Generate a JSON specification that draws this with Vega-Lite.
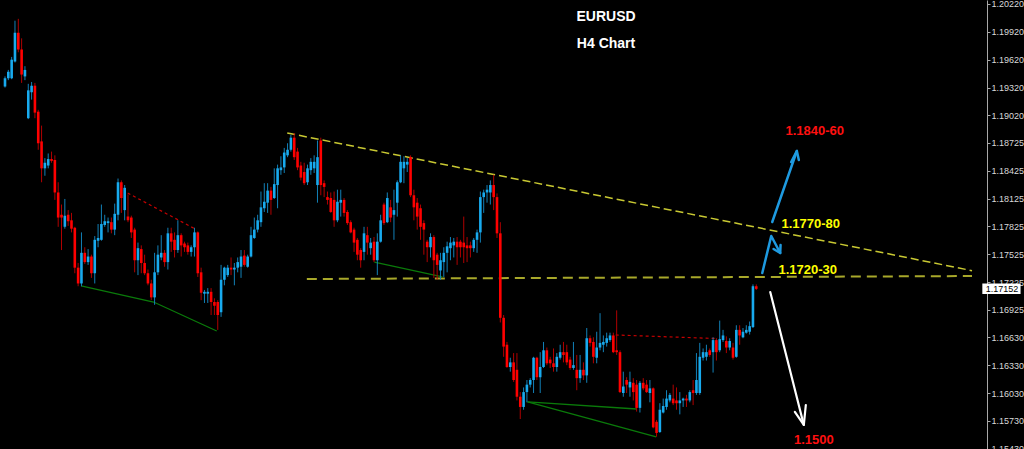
{
 "$schema": "https://vega.github.io/schema/vega-lite/v6.json",
 "width": 987,
 "height": 449,
 "autosize": {"type": "none"},
 "padding": {"left": 0, "top": 0, "right": 37, "bottom": 0},
 "background": "#000000",
 "config": {"view": {"stroke": null}, "text": {"font": "Liberation Sans"}},
 "datasets": {
  "candles": [
{"t":0,"o":1.1933,"h":1.1944,"l":1.1932,"c":1.1942},
{"t":1,"o":1.1942,"h":1.1951,"l":1.1940,"c":1.1949},
{"t":2,"o":1.1942,"h":1.1965,"l":1.1941,"c":1.1962},
{"t":3,"o":1.1960,"h":1.2004,"l":1.1959,"c":1.1991},
{"t":4,"o":1.1991,"h":1.2006,"l":1.1970,"c":1.1973},
{"t":5,"o":1.1973,"h":1.1985,"l":1.1937,"c":1.1946},
{"t":6,"o":1.1944,"h":1.1955,"l":1.1940,"c":1.1951},
{"t":7,"o":1.1899,"h":1.1936,"l":1.1898,"c":1.1929},
{"t":8,"o":1.1927,"h":1.1938,"l":1.1919,"c":1.1934},
{"t":9,"o":1.1934,"h":1.1937,"l":1.1899,"c":1.1905},
{"t":10,"o":1.1906,"h":1.1908,"l":1.1865,"c":1.1872},
{"t":11,"o":1.1874,"h":1.1891,"l":1.1830,"c":1.1845},
{"t":12,"o":1.1845,"h":1.1856,"l":1.1837,"c":1.1851},
{"t":13,"o":1.1848,"h":1.1861,"l":1.1845,"c":1.1855},
{"t":14,"o":1.1855,"h":1.1863,"l":1.1851,"c":1.1853},
{"t":15,"o":1.1854,"h":1.1859,"l":1.1811,"c":1.1819},
{"t":16,"o":1.1819,"h":1.1830,"l":1.1782,"c":1.1792},
{"t":17,"o":1.1795,"h":1.1806,"l":1.1757,"c":1.1792},
{"t":18,"o":1.1782,"h":1.1812,"l":1.1780,"c":1.1794},
{"t":19,"o":1.1795,"h":1.1800,"l":1.1783,"c":1.1788},
{"t":20,"o":1.1789,"h":1.1797,"l":1.1776,"c":1.1780},
{"t":21,"o":1.1781,"h":1.1782,"l":1.1732,"c":1.1738},
{"t":22,"o":1.1738,"h":1.1743,"l":1.1718,"c":1.1721},
{"t":23,"o":1.1721,"h":1.1776,"l":1.1718,"c":1.1754},
{"t":24,"o":1.1754,"h":1.1760,"l":1.1742,"c":1.1744},
{"t":25,"o":1.1744,"h":1.1758,"l":1.1741,"c":1.1750},
{"t":26,"o":1.1750,"h":1.1752,"l":1.1727,"c":1.1732},
{"t":27,"o":1.1732,"h":1.1772,"l":1.1721,"c":1.1768},
{"t":28,"o":1.1767,"h":1.1785,"l":1.1760,"c":1.1770},
{"t":29,"o":1.1768,"h":1.1806,"l":1.1767,"c":1.1785},
{"t":30,"o":1.1784,"h":1.1795,"l":1.1782,"c":1.1788},
{"t":31,"o":1.1786,"h":1.1792,"l":1.1776,"c":1.1788},
{"t":32,"o":1.1787,"h":1.1792,"l":1.1775,"c":1.1779},
{"t":33,"o":1.1779,"h":1.1807,"l":1.1773,"c":1.1796},
{"t":34,"o":1.1795,"h":1.1834,"l":1.1789,"c":1.1830},
{"t":35,"o":1.1830,"h":1.1832,"l":1.1797,"c":1.1813},
{"t":36,"o":1.1800,"h":1.1827,"l":1.1789,"c":1.1824},
{"t":37,"o":1.1793,"h":1.1817,"l":1.1787,"c":1.1789},
{"t":38,"o":1.1792,"h":1.1794,"l":1.1770,"c":1.1776},
{"t":39,"o":1.1779,"h":1.1781,"l":1.1733,"c":1.1746},
{"t":40,"o":1.1746,"h":1.1765,"l":1.1730,"c":1.1759},
{"t":41,"o":1.1758,"h":1.1762,"l":1.1732,"c":1.1743},
{"t":42,"o":1.1743,"h":1.1752,"l":1.1730,"c":1.1732},
{"t":43,"o":1.1732,"h":1.1736,"l":1.1719,"c":1.1721},
{"t":44,"o":1.1721,"h":1.1725,"l":1.1703,"c":1.1706},
{"t":45,"o":1.1706,"h":1.1754,"l":1.1698,"c":1.1733},
{"t":46,"o":1.1733,"h":1.1762,"l":1.1730,"c":1.1752},
{"t":47,"o":1.1749,"h":1.1773,"l":1.1746,"c":1.1754},
{"t":48,"o":1.1754,"h":1.1757,"l":1.1739,"c":1.1744},
{"t":49,"o":1.1744,"h":1.1781,"l":1.1736,"c":1.1775},
{"t":50,"o":1.1775,"h":1.1781,"l":1.1755,"c":1.1766},
{"t":51,"o":1.1768,"h":1.1776,"l":1.1749,"c":1.1757},
{"t":52,"o":1.1757,"h":1.1789,"l":1.1754,"c":1.1773},
{"t":53,"o":1.1773,"h":1.1775,"l":1.1750,"c":1.1762},
{"t":54,"o":1.1764,"h":1.1766,"l":1.1755,"c":1.1760},
{"t":55,"o":1.1762,"h":1.1765,"l":1.1752,"c":1.1755},
{"t":56,"o":1.1755,"h":1.1762,"l":1.1750,"c":1.1760},
{"t":57,"o":1.1760,"h":1.1781,"l":1.1750,"c":1.1776},
{"t":58,"o":1.1776,"h":1.1777,"l":1.1728,"c":1.1732},
{"t":59,"o":1.1733,"h":1.1738,"l":1.1703,"c":1.1711},
{"t":60,"o":1.1710,"h":1.1714,"l":1.1700,"c":1.1712},
{"t":61,"o":1.1710,"h":1.1716,"l":1.1700,"c":1.1712},
{"t":62,"o":1.1712,"h":1.1716,"l":1.1687,"c":1.1701},
{"t":63,"o":1.1701,"h":1.1705,"l":1.1687,"c":1.1697},
{"t":64,"o":1.1701,"h":1.1703,"l":1.1671,"c":1.1687},
{"t":65,"o":1.1690,"h":1.1741,"l":1.1685,"c":1.1725},
{"t":66,"o":1.1725,"h":1.1739,"l":1.1719,"c":1.1738},
{"t":67,"o":1.1730,"h":1.1741,"l":1.1728,"c":1.1738},
{"t":68,"o":1.1738,"h":1.1749,"l":1.1730,"c":1.1736},
{"t":69,"o":1.1736,"h":1.1743,"l":1.1719,"c":1.1738},
{"t":70,"o":1.1738,"h":1.1749,"l":1.1733,"c":1.1744},
{"t":71,"o":1.1739,"h":1.1757,"l":1.1727,"c":1.1750},
{"t":72,"o":1.1751,"h":1.1757,"l":1.1739,"c":1.1741},
{"t":73,"o":1.1739,"h":1.1752,"l":1.1738,"c":1.1750},
{"t":74,"o":1.1750,"h":1.1782,"l":1.1749,"c":1.1773},
{"t":75,"o":1.1770,"h":1.1792,"l":1.1769,"c":1.1779},
{"t":76,"o":1.1779,"h":1.1795,"l":1.1776,"c":1.1789},
{"t":77,"o":1.1787,"h":1.1820,"l":1.1782,"c":1.1803},
{"t":78,"o":1.1802,"h":1.1829,"l":1.1798,"c":1.1809},
{"t":79,"o":1.1808,"h":1.1829,"l":1.1797,"c":1.1821},
{"t":80,"o":1.1821,"h":1.1825,"l":1.1795,"c":1.1811},
{"t":81,"o":1.1813,"h":1.1845,"l":1.1812,"c":1.1828},
{"t":82,"o":1.1827,"h":1.1849,"l":1.1802,"c":1.1845},
{"t":83,"o":1.1843,"h":1.1858,"l":1.1838,"c":1.1846},
{"t":84,"o":1.1846,"h":1.1867,"l":1.1840,"c":1.1862},
{"t":85,"o":1.1859,"h":1.1872,"l":1.1857,"c":1.1865},
{"t":86,"o":1.1865,"h":1.1881,"l":1.1863,"c":1.1878},
{"t":87,"o":1.1878,"h":1.1883,"l":1.1854,"c":1.1857},
{"t":88,"o":1.1863,"h":1.1867,"l":1.1843,"c":1.1846},
{"t":89,"o":1.1848,"h":1.1852,"l":1.1832,"c":1.1835},
{"t":90,"o":1.1841,"h":1.1851,"l":1.1827,"c":1.1829},
{"t":91,"o":1.1830,"h":1.1849,"l":1.1827,"c":1.1845},
{"t":92,"o":1.1843,"h":1.1856,"l":1.1838,"c":1.1852},
{"t":93,"o":1.1845,"h":1.1859,"l":1.1840,"c":1.1852},
{"t":94,"o":1.1827,"h":1.1875,"l":1.1808,"c":1.1857},
{"t":95,"o":1.1875,"h":1.1878,"l":1.1816,"c":1.1827},
{"t":96,"o":1.1829,"h":1.1832,"l":1.1814,"c":1.1825},
{"t":97,"o":1.1814,"h":1.1820,"l":1.1806,"c":1.1811},
{"t":98,"o":1.1813,"h":1.1819,"l":1.1797,"c":1.1798},
{"t":99,"o":1.1811,"h":1.1820,"l":1.1782,"c":1.1789},
{"t":100,"o":1.1789,"h":1.1822,"l":1.1787,"c":1.1809},
{"t":101,"o":1.1808,"h":1.1822,"l":1.1793,"c":1.1811},
{"t":102,"o":1.1811,"h":1.1813,"l":1.1793,"c":1.1797},
{"t":103,"o":1.1798,"h":1.1800,"l":1.1784,"c":1.1786},
{"t":104,"o":1.1787,"h":1.1789,"l":1.1775,"c":1.1776},
{"t":105,"o":1.1779,"h":1.1781,"l":1.1755,"c":1.1765},
{"t":106,"o":1.1768,"h":1.1770,"l":1.1746,"c":1.1752},
{"t":107,"o":1.1757,"h":1.1759,"l":1.1738,"c":1.1746},
{"t":108,"o":1.1755,"h":1.1782,"l":1.1746,"c":1.1775},
{"t":109,"o":1.1773,"h":1.1782,"l":1.1752,"c":1.1765},
{"t":110,"o":1.1759,"h":1.1770,"l":1.1752,"c":1.1765},
{"t":111,"o":1.1766,"h":1.1771,"l":1.1744,"c":1.1746},
{"t":112,"o":1.1746,"h":1.1775,"l":1.1730,"c":1.1766},
{"t":113,"o":1.1766,"h":1.1795,"l":1.1765,"c":1.1789},
{"t":114,"o":1.1806,"h":1.1808,"l":1.1784,"c":1.1786},
{"t":115,"o":1.1787,"h":1.1819,"l":1.1786,"c":1.1813},
{"t":116,"o":1.1803,"h":1.1811,"l":1.1787,"c":1.1792},
{"t":117,"o":1.1795,"h":1.1822,"l":1.1768,"c":1.1800},
{"t":118,"o":1.1808,"h":1.1832,"l":1.1793,"c":1.1830},
{"t":119,"o":1.1830,"h":1.1859,"l":1.1829,"c":1.1852},
{"t":120,"o":1.1845,"h":1.1858,"l":1.1829,"c":1.1852},
{"t":121,"o":1.1849,"h":1.1856,"l":1.1841,"c":1.1852},
{"t":122,"o":1.1857,"h":1.1859,"l":1.1814,"c":1.1816},
{"t":123,"o":1.1816,"h":1.1822,"l":1.1789,"c":1.1803},
{"t":124,"o":1.1808,"h":1.1813,"l":1.1779,"c":1.1793},
{"t":125,"o":1.1802,"h":1.1806,"l":1.1768,"c":1.1782},
{"t":126,"o":1.1786,"h":1.1789,"l":1.1752,"c":1.1779},
{"t":127,"o":1.1766,"h":1.1768,"l":1.1744,"c":1.1760},
{"t":128,"o":1.1760,"h":1.1775,"l":1.1749,"c":1.1771},
{"t":129,"o":1.1771,"h":1.1773,"l":1.1727,"c":1.1746},
{"t":130,"o":1.1752,"h":1.1754,"l":1.1725,"c":1.1741},
{"t":131,"o":1.1735,"h":1.1754,"l":1.1725,"c":1.1746},
{"t":132,"o":1.1744,"h":1.1760,"l":1.1728,"c":1.1754},
{"t":133,"o":1.1754,"h":1.1766,"l":1.1733,"c":1.1761},
{"t":134,"o":1.1759,"h":1.1771,"l":1.1746,"c":1.1765},
{"t":135,"o":1.1762,"h":1.1770,"l":1.1749,"c":1.1766},
{"t":136,"o":1.1766,"h":1.1771,"l":1.1741,"c":1.1760},
{"t":137,"o":1.1766,"h":1.1768,"l":1.1749,"c":1.1760},
{"t":138,"o":1.1765,"h":1.1793,"l":1.1743,"c":1.1760},
{"t":139,"o":1.1762,"h":1.1771,"l":1.1744,"c":1.1759},
{"t":140,"o":1.1762,"h":1.1766,"l":1.1749,"c":1.1759},
{"t":141,"o":1.1759,"h":1.1770,"l":1.1755,"c":1.1768},
{"t":142,"o":1.1768,"h":1.1779,"l":1.1754,"c":1.1776},
{"t":143,"o":1.1776,"h":1.1820,"l":1.1765,"c":1.1814},
{"t":144,"o":1.1814,"h":1.1822,"l":1.1797,"c":1.1819},
{"t":145,"o":1.1819,"h":1.1827,"l":1.1808,"c":1.1822},
{"t":146,"o":1.1819,"h":1.1832,"l":1.1806,"c":1.1827},
{"t":147,"o":1.1827,"h":1.1838,"l":1.1800,"c":1.1814},
{"t":148,"o":1.1814,"h":1.1818,"l":1.1770,"c":1.1775},
{"t":149,"o":1.1775,"h":1.1787,"l":1.1679,"c":1.1684},
{"t":150,"o":1.1684,"h":1.1687,"l":1.1642,"c":1.1653},
{"t":151,"o":1.1655,"h":1.1658,"l":1.1630,"c":1.1631},
{"t":152,"o":1.1631,"h":1.1641,"l":1.1626,"c":1.1636},
{"t":153,"o":1.1636,"h":1.1646,"l":1.1615,"c":1.1617},
{"t":154,"o":1.1628,"h":1.1646,"l":1.1595,"c":1.1599},
{"t":155,"o":1.1599,"h":1.1604,"l":1.1575,"c":1.1588},
{"t":156,"o":1.1588,"h":1.1609,"l":1.1585,"c":1.1604},
{"t":157,"o":1.1604,"h":1.1617,"l":1.1593,"c":1.1612},
{"t":158,"o":1.1612,"h":1.1619,"l":1.1609,"c":1.1617},
{"t":159,"o":1.1617,"h":1.1642,"l":1.1603,"c":1.1641},
{"t":160,"o":1.1641,"h":1.1642,"l":1.1617,"c":1.1620},
{"t":161,"o":1.1620,"h":1.1647,"l":1.1603,"c":1.1631},
{"t":162,"o":1.1631,"h":1.1658,"l":1.1630,"c":1.1649},
{"t":163,"o":1.1649,"h":1.1652,"l":1.1633,"c":1.1635},
{"t":164,"o":1.1639,"h":1.1642,"l":1.1630,"c":1.1635},
{"t":165,"o":1.1635,"h":1.1651,"l":1.1626,"c":1.1631},
{"t":166,"o":1.1631,"h":1.1646,"l":1.1626,"c":1.1642},
{"t":167,"o":1.1641,"h":1.1655,"l":1.1639,"c":1.1647},
{"t":168,"o":1.1647,"h":1.1658,"l":1.1636,"c":1.1644},
{"t":169,"o":1.1647,"h":1.1655,"l":1.1633,"c":1.1636},
{"t":170,"o":1.1639,"h":1.1642,"l":1.1628,"c":1.1630},
{"t":171,"o":1.1630,"h":1.1658,"l":1.1628,"c":1.1633},
{"t":172,"o":1.1628,"h":1.1644,"l":1.1606,"c":1.1619},
{"t":173,"o":1.1619,"h":1.1644,"l":1.1614,"c":1.1628},
{"t":174,"o":1.1628,"h":1.1636,"l":1.1617,"c":1.1622},
{"t":175,"o":1.1622,"h":1.1673,"l":1.1614,"c":1.1662},
{"t":176,"o":1.1662,"h":1.1665,"l":1.1653,"c":1.1657},
{"t":177,"o":1.1658,"h":1.1663,"l":1.1635,"c":1.1642},
{"t":178,"o":1.1641,"h":1.1669,"l":1.1635,"c":1.1652},
{"t":179,"o":1.1652,"h":1.1689,"l":1.1649,"c":1.1657},
{"t":180,"o":1.1655,"h":1.1665,"l":1.1647,"c":1.1658},
{"t":181,"o":1.1657,"h":1.1668,"l":1.1653,"c":1.1662},
{"t":182,"o":1.1660,"h":1.1668,"l":1.1658,"c":1.1665},
{"t":183,"o":1.1665,"h":1.1668,"l":1.1646,"c":1.1647},
{"t":184,"o":1.1649,"h":1.1692,"l":1.1644,"c":1.1647},
{"t":185,"o":1.1647,"h":1.1649,"l":1.1603,"c":1.1604},
{"t":186,"o":1.1603,"h":1.1626,"l":1.1599,"c":1.1610},
{"t":187,"o":1.1617,"h":1.1620,"l":1.1603,"c":1.1612},
{"t":188,"o":1.1609,"h":1.1626,"l":1.1599,"c":1.1615},
{"t":189,"o":1.1614,"h":1.1619,"l":1.1595,"c":1.1604},
{"t":190,"o":1.1612,"h":1.1617,"l":1.1583,"c":1.1587},
{"t":191,"o":1.1587,"h":1.1616,"l":1.1582,"c":1.1614},
{"t":192,"o":1.1614,"h":1.1619,"l":1.1606,"c":1.1608},
{"t":193,"o":1.1612,"h":1.1617,"l":1.1603,"c":1.1604},
{"t":194,"o":1.1603,"h":1.1617,"l":1.1593,"c":1.1608},
{"t":195,"o":1.1608,"h":1.1609,"l":1.1565,"c":1.1566},
{"t":196,"o":1.1572,"h":1.1574,"l":1.1556,"c":1.1560},
{"t":197,"o":1.1561,"h":1.1592,"l":1.1560,"c":1.1585},
{"t":198,"o":1.1582,"h":1.1597,"l":1.1581,"c":1.1589},
{"t":199,"o":1.1588,"h":1.1606,"l":1.1585,"c":1.1597},
{"t":200,"o":1.1595,"h":1.1603,"l":1.1593,"c":1.1601},
{"t":201,"o":1.1597,"h":1.1612,"l":1.1590,"c":1.1592},
{"t":202,"o":1.1595,"h":1.1609,"l":1.1585,"c":1.1592},
{"t":203,"o":1.1592,"h":1.1604,"l":1.1580,"c":1.1595},
{"t":204,"o":1.1595,"h":1.1598,"l":1.1588,"c":1.1597},
{"t":205,"o":1.1597,"h":1.1601,"l":1.1588,"c":1.1595},
{"t":206,"o":1.1595,"h":1.1606,"l":1.1593,"c":1.1604},
{"t":207,"o":1.1606,"h":1.1617,"l":1.1590,"c":1.1603},
{"t":208,"o":1.1603,"h":1.1646,"l":1.1601,"c":1.1617},
{"t":209,"o":1.1603,"h":1.1657,"l":1.1601,"c":1.1642},
{"t":210,"o":1.1641,"h":1.1651,"l":1.1638,"c":1.1647},
{"t":211,"o":1.1642,"h":1.1655,"l":1.1638,"c":1.1647},
{"t":212,"o":1.1649,"h":1.1651,"l":1.1642,"c":1.1644},
{"t":213,"o":1.1647,"h":1.1663,"l":1.1625,"c":1.1660},
{"t":214,"o":1.1660,"h":1.1662,"l":1.1638,"c":1.1647},
{"t":215,"o":1.1649,"h":1.1681,"l":1.1647,"c":1.1661},
{"t":216,"o":1.1660,"h":1.1671,"l":1.1658,"c":1.1665},
{"t":217,"o":1.1659,"h":1.1664,"l":1.1646,"c":1.1652},
{"t":218,"o":1.1652,"h":1.1662,"l":1.1649,"c":1.1659},
{"t":219,"o":1.1652,"h":1.1657,"l":1.1639,"c":1.1641},
{"t":220,"o":1.1642,"h":1.1676,"l":1.1641,"c":1.1671},
{"t":221,"o":1.1671,"h":1.1676,"l":1.1655,"c":1.1665},
{"t":222,"o":1.1663,"h":1.1673,"l":1.1662,"c":1.1669},
{"t":223,"o":1.1668,"h":1.1676,"l":1.1667,"c":1.1671},
{"t":224,"o":1.1669,"h":1.1680,"l":1.1666,"c":1.1675},
{"t":225,"o":1.1674,"h":1.1720,"l":1.1673,"c":1.1718},
{"t":226,"o":1.1718,"h":1.1720,"l":1.1714,"c":1.17152}
  ],
  "trend": [{"t":84.9,"p":1.18831},{"t":290.9,"p":1.17348}],
  "support": [{"t":90.8,"p":1.17258},{"t":290.9,"p":1.17290}],
  "reddash": [
   {"g":"a","t":36.9,"p":1.18184},{"g":"a","t":57.2,"p":1.17797},
   {"g":"b","t":183.7,"p":1.16655},{"g":"b","t":213.8,"p":1.16617}
  ],
  "green": [
   {"g":"a","s":0,"t":22.9,"p":1.17183},{"g":"a","s":1,"t":44.7,"p":1.17010},{"g":"a","s":2,"t":63.7,"p":1.16698},
   {"g":"b","s":0,"t":111.1,"p":1.17441},{"g":"b","s":1,"t":131.6,"p":1.17280},
   {"g":"c","s":0,"t":157.2,"p":1.15934},{"g":"c","s":1,"t":190.0,"p":1.15858},
   {"g":"d","s":0,"t":157.2,"p":1.15934},{"g":"d","s":1,"t":195.9,"p":1.15557}
  ],
  "bluearrows": [
   {"g":"m1","s":0,"t":227.8,"p":1.17323},{"g":"m1","s":1,"t":230.5,"p":1.17721},{"g":"m1","s":2,"t":233.2,"p":1.17538},
   {"g":"h1","s":0,"t":233.3,"p":1.17624},{"g":"h1","s":1,"t":233.2,"p":1.17538},{"g":"h1","s":2,"t":231.2,"p":1.17581},
   {"g":"m2","s":0,"t":230.8,"p":1.17872},{"g":"m2","s":1,"t":238.2,"p":1.18637},
   {"g":"h2","s":0,"t":236.5,"p":1.18518},{"g":"h2","s":1,"t":238.2,"p":1.18637},{"g":"h2","s":2,"t":238.8,"p":1.18540}
  ],
  "whitearrow": [
   {"g":"m3","s":0,"t":230.2,"p":1.17118},{"g":"m3","s":1,"t":240.3,"p":1.15686},
   {"g":"h3","s":0,"t":237.6,"p":1.15826},{"g":"h3","s":1,"t":240.3,"p":1.15686},{"g":"h3","s":2,"t":240.9,"p":1.15901}
  ],
  "titles": [{"txt":"EURUSD","t":180.8,"p":1.2008},{"txt":"H4 Chart","t":180.8,"p":1.19789}],
  "redlabels": [{"txt":"1.1840-60","t":243.6,"p":1.18852},{"txt":"1.1500","t":243.3,"p":1.15524}],
  "yellowlabels": [{"txt":"1.1770-80","t":242.4,"p":1.17851},{"txt":"1.1720-30","t":241.5,"p":1.17355}],
  "pricebox": [{"t":294.0,"t2":305.5,"p":1.17210,"p2":1.17097,"lt":295.0,"price":1.17152}]
 },
 "layer": [
  {
   "mark": {"type": "rule", "color": "#5b5d66", "strokeWidth": 2},
   "encoding": {"y": {"datum": 1.17152, "type": "quantitative", "scale": {"domain": [1.15427, 1.20263], "nice": false, "zero": false}, "axis": {"disable": false, "orient": "right", "title": null, "grid": false, "values": [1.2022, 1.1992, 1.1962, 1.1932, 1.1902, 1.18725, 1.18425, 1.18125, 1.17825, 1.17525, 1.17225, 1.16925, 1.1663, 1.1633, 1.1603, 1.1573, 1.1543], "tickCount": 30, "format": ".5f", "labelColor": "#d8d8d8", "labelFont": "Liberation Sans", "labelFontSize": 9, "tickColor": "#a8a8a8", "tickSize": 3, "domainColor": "#a8a8a8", "labelPadding": 1, "labelOverlap": false, "labelBaseline": "middle"}}}
  },
  {
   "data": {"name": "trend"},
   "mark": {"type": "line", "color": "#c8c832", "strokeWidth": 1.5, "strokeDash": [8, 4]},
   "encoding": {
    "x": {"field": "t", "type": "quantitative", "scale": {"domain": [0, 293.9], "nice": false, "zero": false}, "axis": null},
    "y": {"field": "p", "type": "quantitative"}
   }
  },
  {
   "data": {"name": "support"},
   "mark": {"type": "line", "color": "#a8a82a", "strokeWidth": 2, "strokeDash": [10, 6]},
   "encoding": {
    "x": {"field": "t", "type": "quantitative", "axis": null},
    "y": {"field": "p", "type": "quantitative"}
   }
  },
  {
   "data": {"name": "reddash"},
   "mark": {"type": "line", "color": "#c80000", "strokeWidth": 1.2, "strokeDash": [3, 3]},
   "encoding": {
    "x": {"field": "t", "type": "quantitative", "axis": null},
    "y": {"field": "p", "type": "quantitative"},
    "detail": {"field": "g"}
   }
  },
  {
   "data": {"name": "green"},
   "mark": {"type": "line", "color": "#0a7a0a", "strokeWidth": 1.3},
   "encoding": {
    "x": {"field": "t", "type": "quantitative", "axis": null},
    "y": {"field": "p", "type": "quantitative"},
    "detail": {"field": "g"},
    "order": {"field": "s"}
   }
  },
  {
   "data": {"name": "candles"},
   "mark": {"type": "rule", "strokeWidth": 1},
   "encoding": {
    "x": {"field": "t", "type": "quantitative", "axis": null},
    "y": {"field": "l", "type": "quantitative"},
    "y2": {"field": "h"},
    "color": {"condition": {"test": "datum.c >= datum.o", "value": "#1281b8"}, "value": "#b00000"}
   }
  },
  {
   "data": {"name": "candles"},
   "mark": {"type": "bar", "size": 2.6},
   "encoding": {
    "x": {"field": "t", "type": "quantitative", "axis": null},
    "y": {"field": "o", "type": "quantitative"},
    "y2": {"field": "c"},
    "color": {"condition": {"test": "datum.c >= datum.o", "value": "#18aaee"}, "value": "#ff0000"}
   }
  },
  {
   "data": {"name": "bluearrows"},
   "mark": {"type": "line", "color": "#1e9ae0", "strokeWidth": 2.5, "strokeCap": "round", "strokeJoin": "round"},
   "encoding": {
    "x": {"field": "t", "type": "quantitative", "axis": null},
    "y": {"field": "p", "type": "quantitative"},
    "detail": {"field": "g"},
    "order": {"field": "s"}
   }
  },
  {
   "data": {"name": "whitearrow"},
   "mark": {"type": "line", "color": "#ffffff", "strokeWidth": 2.2, "strokeCap": "round", "strokeJoin": "round"},
   "encoding": {
    "x": {"field": "t", "type": "quantitative", "axis": null},
    "y": {"field": "p", "type": "quantitative"},
    "detail": {"field": "g"},
    "order": {"field": "s"}
   }
  },
  {
   "data": {"name": "titles"},
   "mark": {"type": "text", "color": "#ffffff", "fontSize": 14, "fontWeight": "bold", "align": "center", "baseline": "middle"},
   "encoding": {
    "x": {"field": "t", "type": "quantitative", "axis": null},
    "y": {"field": "p", "type": "quantitative"},
    "text": {"field": "txt"}
   }
  },
  {
   "data": {"name": "redlabels"},
   "mark": {"type": "text", "color": "#ff1010", "fontSize": 13, "fontWeight": "bold", "align": "center", "baseline": "middle"},
   "encoding": {
    "x": {"field": "t", "type": "quantitative", "axis": null},
    "y": {"field": "p", "type": "quantitative"},
    "text": {"field": "txt"}
   }
  },
  {
   "data": {"name": "yellowlabels"},
   "mark": {"type": "text", "color": "#ffff00", "fontSize": 13, "fontWeight": "bold", "align": "center", "baseline": "middle"},
   "encoding": {
    "x": {"field": "t", "type": "quantitative", "axis": null},
    "y": {"field": "p", "type": "quantitative"},
    "text": {"field": "txt"}
   }
  },
  {
   "data": {"name": "pricebox"},
   "mark": {"type": "rect", "color": "#ffffff"},
   "encoding": {
    "x": {"field": "t", "type": "quantitative", "axis": null},
    "x2": {"field": "t2"},
    "y": {"field": "p", "type": "quantitative"},
    "y2": {"field": "p2"}
   }
  },
  {
   "data": {"name": "pricebox"},
   "mark": {"type": "text", "color": "#000000", "fontSize": 9, "align": "left", "baseline": "middle"},
   "encoding": {
    "x": {"field": "lt", "type": "quantitative", "axis": null},
    "y": {"field": "price", "type": "quantitative"},
    "text": {"field": "price", "format": ".5f"}
   }
  }
 ]
}
